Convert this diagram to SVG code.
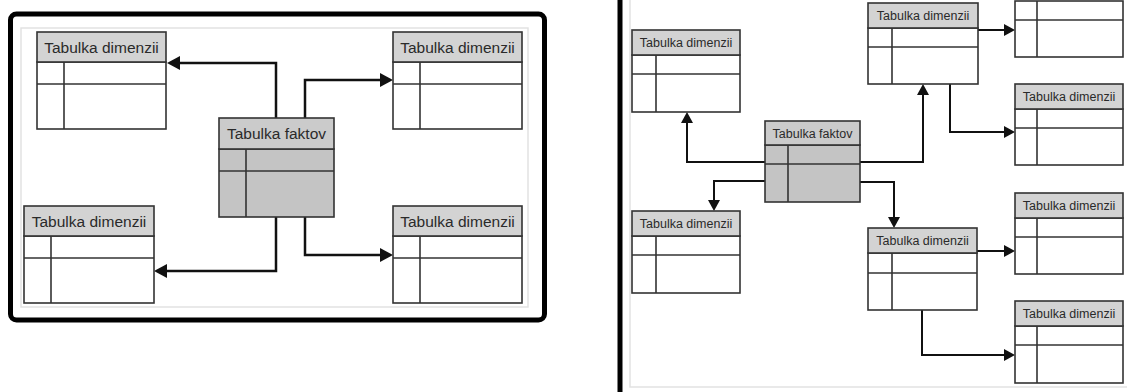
<svg xmlns="http://www.w3.org/2000/svg" width="1127" height="392" viewBox="0 0 1127 392">
<style>
.hd{fill:#d3d3d3;stroke:#333;stroke-width:1.6}
.fh{fill:#cbcbcb;stroke:#333;stroke-width:1.6}
.bd{fill:#fff;stroke:#333;stroke-width:1.6}
.fb{fill:#c4c4c4;stroke:#333;stroke-width:1.6}
.ln{stroke:#333;stroke-width:1.6;fill:none}
.tL{font-family:"Liberation Sans",Arial,sans-serif;font-size:15.5px;fill:#2a2a2a;text-anchor:middle}
.tR{font-family:"Liberation Sans",Arial,sans-serif;font-size:12.5px;fill:#2a2a2a;text-anchor:middle}
.cL{fill:none;stroke:#111;stroke-width:2.5;marker-end:url(#aL)}
.cR{fill:none;stroke:#111;stroke-width:2;marker-end:url(#aR)}
</style>
<defs>
<marker id="aL" markerUnits="userSpaceOnUse" markerWidth="14" markerHeight="14" refX="0" refY="7" orient="auto"><path d="M0,0 L13,7 L0,14 z" fill="#111"/></marker>
<marker id="aR" markerUnits="userSpaceOnUse" markerWidth="12" markerHeight="12" refX="0" refY="6" orient="auto"><path d="M0,0 L11,6 L0,12 z" fill="#111"/></marker>
</defs>
<rect width="1127" height="392" fill="#fff"/>
<!-- left panel frame -->
<g id="left-frame">
<rect x="21" y="28" width="507" height="279" fill="none" stroke="#e2e2e2" stroke-width="1.5"/>
<rect x="10.5" y="14" width="534" height="306" rx="6" fill="none" stroke="#000" stroke-width="5"/>
</g>
<!-- right panel frame -->
<g id="right-frame">
<path d="M630,-2 V387 H1129" fill="none" stroke="#e2e2e2" stroke-width="1.5"/>
<line x1="620" y1="-5" x2="620" y2="397" stroke="#000" stroke-width="5"/>
</g>
<g id="connectors">
<path class="cL" d="M276,118 V63 H180"/>
<path class="cL" d="M305,118 V80 H380"/>
<path class="cL" d="M276,217 V271 H167"/>
<path class="cL" d="M305,217 V255 H380"/>
<path class="cR" d="M765,162 H687 V123"/>
<path class="cR" d="M765,181 H714 V200"/>
<path class="cR" d="M860,162 H923 V95"/>
<path class="cR" d="M860,182 H894 V217"/>
<path class="cR" d="M978,30 H1004"/>
<path class="cR" d="M950,84 V132 H1004"/>
<path class="cR" d="M977,251 H1004"/>
<path class="cR" d="M922,310 V355 H1004"/>
</g>
<!-- left panel nodes -->
<g id="L-dim-tl">
<rect class="bd" x="37" y="62" width="129" height="67"/>
<rect class="hd" x="37" y="32" width="129" height="30"/>
<line class="ln" x1="37" y1="84" x2="166" y2="84"/><line class="ln" x1="64" y1="62" x2="64" y2="129"/>
<text class="tL" x="101.5" y="52.5">Tabulka dimenzii</text>
</g>
<g id="L-dim-tr">
<rect class="bd" x="393" y="62" width="129" height="67"/>
<rect class="hd" x="393" y="32" width="129" height="30"/>
<line class="ln" x1="393" y1="84" x2="522" y2="84"/><line class="ln" x1="420" y1="62" x2="420" y2="129"/>
<text class="tL" x="457.5" y="52.5">Tabulka dimenzii</text>
</g>
<g id="L-dim-bl">
<rect class="bd" x="24" y="236" width="130" height="67"/>
<rect class="hd" x="24" y="206" width="130" height="30"/>
<line class="ln" x1="24" y1="258" x2="154" y2="258"/><line class="ln" x1="51" y1="236" x2="51" y2="303"/>
<text class="tL" x="89" y="226.5">Tabulka dimenzii</text>
</g>
<g id="L-dim-br">
<rect class="bd" x="393" y="236" width="129" height="67"/>
<rect class="hd" x="393" y="206" width="129" height="30"/>
<line class="ln" x1="393" y1="258" x2="522" y2="258"/><line class="ln" x1="420" y1="236" x2="420" y2="303"/>
<text class="tL" x="457.5" y="226.5">Tabulka dimenzii</text>
</g>
<g id="L-fact">
<rect class="fb" x="219" y="149" width="115" height="68"/>
<rect class="fh" x="219" y="118" width="115" height="31"/>
<line class="ln" x1="219" y1="171" x2="334" y2="171"/><line class="ln" x1="246" y1="149" x2="246" y2="217"/>
<text class="tL" x="276.5" y="139">Tabulka faktov</text>
</g>
<!-- right panel nodes -->
<g id="R-dim-lt">
<rect class="bd" x="632" y="55" width="108" height="57"/>
<rect class="hd" x="632" y="30" width="108" height="25"/>
<line class="ln" x1="632" y1="74" x2="740" y2="74"/><line class="ln" x1="656" y1="55" x2="656" y2="112"/>
<text class="tR" x="686" y="47">Tabulka dimenzii</text>
</g>
<g id="R-dim-lb">
<rect class="bd" x="632" y="236" width="108" height="57"/>
<rect class="hd" x="632" y="211" width="108" height="25"/>
<line class="ln" x1="632" y1="255" x2="740" y2="255"/><line class="ln" x1="656" y1="236" x2="656" y2="293"/>
<text class="tR" x="686" y="228">Tabulka dimenzii</text>
</g>
<g id="R-fact">
<rect class="fb" x="765" y="145" width="95" height="57"/>
<rect class="fh" x="765" y="121" width="95" height="24"/>
<line class="ln" x1="765" y1="164" x2="860" y2="164"/><line class="ln" x1="788" y1="145" x2="788" y2="202"/>
<text class="tR" x="812.5" y="137.5">Tabulka faktov</text>
</g>
<g id="R-dim-mt">
<rect class="bd" x="868" y="28" width="110" height="56"/>
<rect class="hd" x="868" y="3" width="110" height="25"/>
<line class="ln" x1="868" y1="47" x2="978" y2="47"/><line class="ln" x1="892" y1="28" x2="892" y2="84"/>
<text class="tR" x="923" y="20">Tabulka dimenzii</text>
</g>
<g id="R-dim-mb">
<rect class="bd" x="868" y="253" width="109" height="57"/>
<rect class="hd" x="868" y="228" width="109" height="25"/>
<line class="ln" x1="868" y1="273" x2="977" y2="273"/><line class="ln" x1="892" y1="253" x2="892" y2="310"/>
<text class="tR" x="922.5" y="245">Tabulka dimenzii</text>
</g>
<g id="R-dim-r1">
<rect class="bd" x="1015" y="1" width="108" height="56"/>
<line class="ln" x1="1015" y1="20" x2="1123" y2="20"/><line class="ln" x1="1037" y1="1" x2="1037" y2="57"/>
</g>
<g id="R-dim-r2">
<rect class="bd" x="1015" y="109" width="108" height="56"/>
<rect class="hd" x="1015" y="84" width="108" height="25"/>
<line class="ln" x1="1015" y1="128" x2="1123" y2="128"/><line class="ln" x1="1037" y1="109" x2="1037" y2="165"/>
<text class="tR" x="1069" y="101">Tabulka dimenzii</text>
</g>
<g id="R-dim-r3">
<rect class="bd" x="1015" y="218" width="108" height="56"/>
<rect class="hd" x="1015" y="193" width="108" height="25"/>
<line class="ln" x1="1015" y1="237" x2="1123" y2="237"/><line class="ln" x1="1037" y1="218" x2="1037" y2="274"/>
<text class="tR" x="1069" y="210">Tabulka dimenzii</text>
</g>
<g id="R-dim-r4">
<rect class="bd" x="1015" y="326" width="108" height="57"/>
<rect class="hd" x="1015" y="301" width="108" height="25"/>
<line class="ln" x1="1015" y1="345" x2="1123" y2="345"/><line class="ln" x1="1037" y1="326" x2="1037" y2="383"/>
<text class="tR" x="1069" y="318">Tabulka dimenzii</text>
</g>
</svg>
